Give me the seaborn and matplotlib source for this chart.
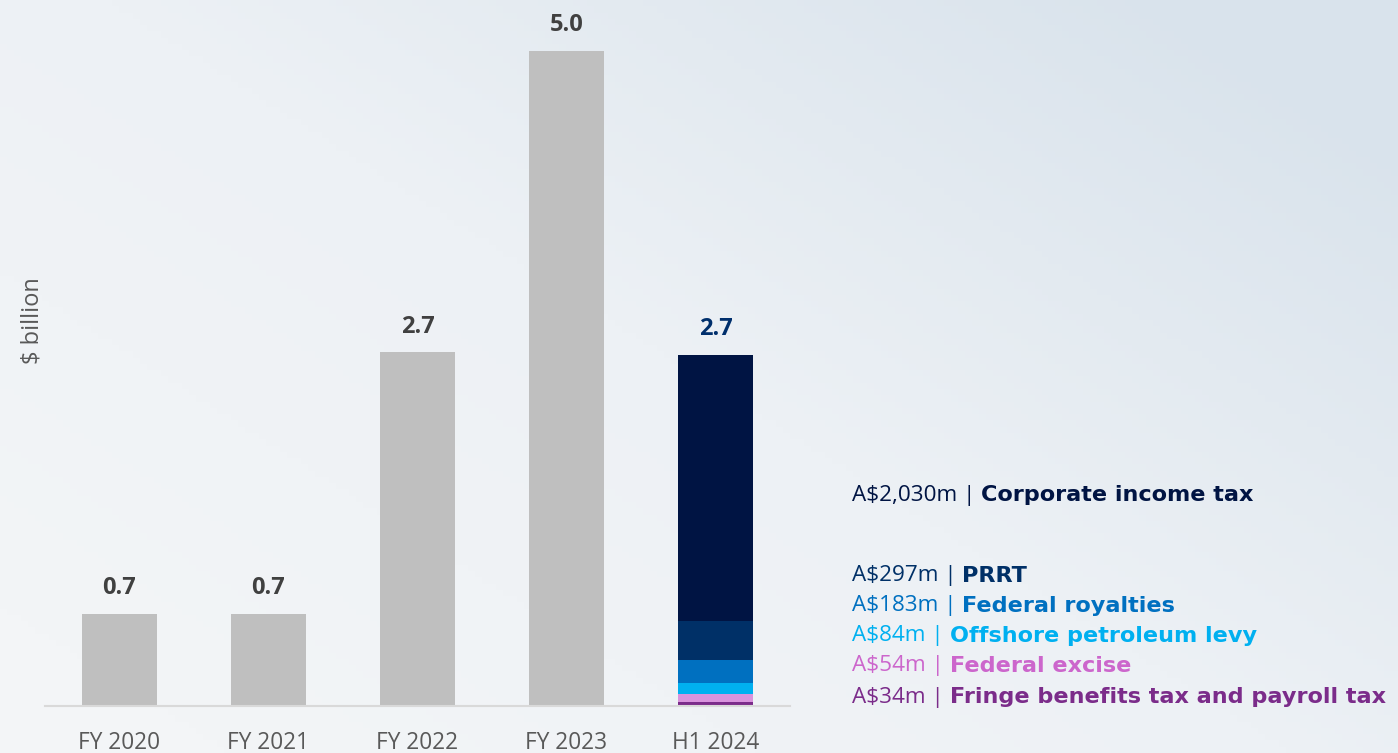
import numpy as np
import pandas as pd
import matplotlib
matplotlib.use("Agg")
import matplotlib.pyplot as plt
from matplotlib.colors import LinearSegmentedColormap
import seaborn as sns

# Data
categories = ["FY 2020", "FY 2021", "FY 2022", "FY 2023", "H1 2024"]
totals = [0.70, 0.70, 2.70, 5.00, 2.68]
total_labels = ["0.7", "0.7", "2.7", "5.0", "2.7"]

# H1 2024 breakdown (A$m), bottom to top
tax_names = ["Fringe benefits tax and payroll tax", "Federal excise",
             "Offshore petroleum levy", "Federal royalties", "PRRT",
             "Corporate income tax"]
tax_values = [34, 54, 84, 183, 297, 2030]
tax_amounts = ["A$34m", "A$54m", "A$84m", "A$183m", "A$297m", "A$2,030m"]
tax_colors = ["#7B2C8A", "#D993DD", "#00B0F0", "#0070C0", "#003067", "#001443"]
tax_text_colors = ["#7B2C8A", "#CC66CC", "#00B0F0", "#0070C0", "#003067", "#001443"]

sns.set_theme(style="white")
plt.rcParams['font.family'] = ['Open Sans', 'DejaVu Sans']

fig = plt.figure(figsize=(13.98, 7.53), dpi=100)

# background gradient
bg = fig.add_axes([0, 0, 1, 1], zorder=-10)
xx, yy = np.meshgrid(np.linspace(0, 1, 200), np.linspace(0, 1, 120))
grad = np.clip(0.65 * xx + 0.55 * (1 - yy) - 0.1, 0, 1)
cmap = LinearSegmentedColormap.from_list("bg", ["#F3F5F7", "#EDF1F5", "#D9E3EC"])
bg.imshow(grad, cmap=cmap, aspect="auto", extent=[0, 1, 0, 1], origin="upper")
bg.axis("off")

ax = fig.add_axes([45 / 1398, 1 - 706 / 753, 745 / 1398, 681 / 753])
ax.set_facecolor("none")

# gray bars for full years
gray_vals = totals[:4] + [0]
df = pd.DataFrame({"period": categories, "value": gray_vals})
sns.barplot(data=df, x="period", y="value", order=categories, color="#BFBFBF",
            width=0.5, saturation=1, linewidth=0, edgecolor="none", ax=ax)

# stacked H1 2024 bar: draw cumulative heights from the top down
cum = np.cumsum(tax_values) / 1000
for i in range(len(tax_values) - 1, -1, -1):
    vals = [0, 0, 0, 0, cum[i]]
    sns.barplot(x=categories, y=vals, order=categories, color=tax_colors[i],
                width=0.5, saturation=1, linewidth=0, edgecolor="none", ax=ax)

ax.set_xlim(-0.5, 4.5)
ax.set_ylim(0, 5.2)
ax.set_yticks([])
ax.set_xlabel("")
ax.set_ylabel("")
ax.tick_params(axis="x", length=0, labelsize=16.3, labelcolor="#595959", pad=18)
for s in ["top", "right", "left"]:
    ax.spines[s].set_visible(False)
ax.spines["bottom"].set_color("#D9D9D9")
ax.spines["bottom"].set_linewidth(1.5)

fig.text(33 / 1398, 1 - 321 / 753, "\\$ billion", rotation=90, fontsize=17,
         color="#595959", ha="center", va="center")

for i, (v, lab) in enumerate(zip(totals, total_labels)):
    col = "#002F6C" if i == 4 else "#404040"
    ax.annotate(lab, (i, v), xytext=(0, 10), textcoords="offset points",
                ha="center", va="bottom", fontsize=17, fontweight="bold", color=col)

# legend text on the right
rows_y = {5: 495, 4: 576, 3: 606, 2: 636, 1: 666, 0: 697}
for i in range(len(tax_names)):
    y = 1 - rows_y[i] / 753
    t1 = fig.text(852 / 1398, y, tax_amounts[i].replace("$", "\\$") + " | ",
                  fontsize=16.2, color=tax_text_colors[i] if i != 5 else "#001443",
                  va="center", ha="left")
    ax.annotate(tax_names[i], xy=(1, 0.5), xycoords=t1, va="center", ha="left",
                fontsize=16.1, fontweight="bold", color=tax_text_colors[i],
                family=["DejaVu Sans"], annotation_clip=False)

fig.savefig("out.png", dpi=100)
